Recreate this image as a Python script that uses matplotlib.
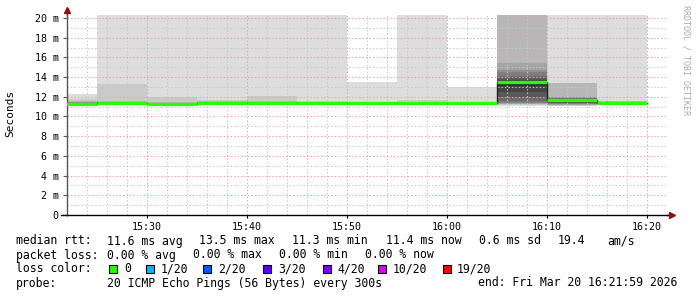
import matplotlib
matplotlib.use("Agg")
import matplotlib.pyplot as plt
from matplotlib.patches import Rectangle
from matplotlib.lines import Line2D

plt.rcParams['font.family'] = ['DejaVu Sans Mono']
plt.rcParams['lines.scale_dashes'] = False

# 5 minute steps, 20 sorted pings each (ms)
interval_start = ["15:20", "15:25", "15:30", "15:35", "15:40", "15:45",
                  "15:50", "15:55", "16:00", "16:05", "16:10", "16:15"]
interval_end = "16:20"
pings = [
    [11.15, 11.2, 11.2, 11.22, 11.25, 11.25, 11.28, 11.3, 11.3, 11.3, 11.32, 11.35, 11.35, 11.4, 11.42, 11.45, 11.5, 11.55, 11.8, 12.3],
    [11.2, 11.25, 11.28, 11.3, 11.3, 11.32, 11.35, 11.35, 11.38, 11.4, 11.4, 11.42, 11.45, 11.45, 11.48, 11.5, 11.52, 11.6, 13.3, 24.8],
    [11.15, 11.2, 11.2, 11.22, 11.25, 11.25, 11.28, 11.3, 11.3, 11.3, 11.32, 11.32, 11.35, 11.35, 11.38, 11.4, 11.42, 11.45, 12.0, 22.5],
    [11.2, 11.22, 11.25, 11.28, 11.3, 11.3, 11.32, 11.35, 11.35, 11.35, 11.38, 11.4, 11.4, 11.42, 11.45, 11.48, 11.5, 11.6, 11.7, 27.3],
    [11.2, 11.25, 11.28, 11.3, 11.3, 11.32, 11.35, 11.38, 11.4, 11.4, 11.4, 11.42, 11.45, 11.45, 11.48, 11.5, 11.52, 11.55, 12.1, 23.6],
    [11.2, 11.25, 11.28, 11.3, 11.3, 11.32, 11.35, 11.38, 11.4, 11.4, 11.4, 11.42, 11.42, 11.45, 11.45, 11.48, 11.5, 11.52, 11.55, 21.9],
    [11.15, 11.2, 11.25, 11.28, 11.3, 11.3, 11.32, 11.35, 11.35, 11.35, 11.35, 11.38, 11.38, 11.4, 11.42, 11.45, 11.48, 11.5, 11.52, 13.5],
    [11.2, 11.22, 11.25, 11.28, 11.3, 11.3, 11.32, 11.32, 11.35, 11.35, 11.35, 11.38, 11.4, 11.4, 11.42, 11.45, 11.48, 11.5, 11.65, 26.1],
    [11.15, 11.2, 11.22, 11.25, 11.28, 11.3, 11.3, 11.32, 11.35, 11.35, 11.35, 11.38, 11.38, 11.4, 11.42, 11.45, 11.48, 11.5, 11.52, 12.95],
    [11.1, 11.2, 11.25, 11.3, 11.35, 11.4, 11.6, 12.0, 12.5, 13.1, 13.65, 13.75, 13.9, 14.1, 14.5, 14.7, 15.4, 21.5, 24.0, 28.7],
    [11.05, 11.1, 11.15, 11.2, 11.25, 11.3, 11.35, 11.4, 11.5, 11.6, 11.75, 11.78, 11.8, 11.85, 11.9, 11.95, 12.0, 13.4, 13.45, 23.0],
    [11.2, 11.25, 11.28, 11.3, 11.3, 11.32, 11.35, 11.35, 11.38, 11.4, 11.4, 11.42, 11.42, 11.45, 11.48, 11.5, 11.52, 11.55, 11.6, 25.4],
]
median = [11.3, 11.4, 11.3, 11.35, 11.4, 11.4, 11.35, 11.35, 11.35, 13.5, 11.7, 11.4]

x_ticks = ["15:30", "15:40", "15:50", "16:00", "16:10", "16:20"]
y_ticks = [0, 2, 4, 6, 8, 10, 12, 14, 16, 18, 20]
y_labels = ["0", "2 m", "4 m", "6 m", "8 m", "10 m", "12 m", "14 m", "16 m", "18 m", "20 m"]

loss_labels = ["0", "1/20", "2/20", "3/20", "4/20", "10/20", "19/20"]
loss_colors = ["#26ff00", "#00b8ff", "#0059ff", "#5e00ff", "#7e00ff", "#dd00ff", "#ff0000"]


def minutes(t):
    h, m = t.split(":")
    return (int(h) - 15) * 60 + int(m)


starts = [minutes(t) for t in interval_start]
ends = starts[1:] + [minutes(interval_end)]

W, H = 697, 297
fig = plt.figure(figsize=(W / 100, H / 100), dpi=100)
ax = fig.add_axes([67 / W, (H - 215) / H, 600 / W, 200 / H])
t0 = 21.98
ax.set_xlim(t0, t0 + 60)
ax.set_ylim(0, 200 / 9.85)

# smoke: outer band lightest, inner darkest
half = 10
for s, e, p in zip(starts, ends, pings):
    for i in range(1, half + 1):
        g = int(190 / half * (half - i)) + 50
        col = "#%02x%02x%02x" % (g, g, g)
        ax.fill_between([s, e], p[i - 1], p[20 - i], color=col, lw=0, zorder=1)

# grid
minor_kw = dict(color="#c8c8c8", lw=0.75, ls=(0, (1.0, 1.5)), zorder=1.5)
major_kw = dict(color="#f0a0a0", lw=0.75, ls=(0, (1.0, 1.5)), zorder=1.6)
for v in range(1, 21):
    ax.axhline(v, **(major_kw if v % 2 == 0 else minor_kw))
for m in range(24, 82, 2):
    ax.axvline(m, **(major_kw if m % 10 == 0 else minor_kw))

# median line
ax.plot(starts + [ends[-1]], median + [median[-1]], drawstyle="steps-post",
        color="#202020", lw=1.0, zorder=2)
ax.hlines(median, starts, ends, color=loss_colors[0], lw=2.3, zorder=3)

for sp in ["top", "right"]:
    ax.spines[sp].set_visible(False)
ax.spines["left"].set_color("#555555")
ax.spines["bottom"].set_color("#000000")
ax.spines["left"].set_linewidth(1.0)
ax.spines["bottom"].set_linewidth(1.0)

# axis extensions with arrows
ax.add_line(Line2D([0, 0], [1.0, 1.02], transform=ax.transAxes, color="#555555",
                   lw=1.0, clip_on=False))
ax.add_line(Line2D([-0.01, 0.0], [0, 0], transform=ax.transAxes, color="#000000",
                   lw=1.0, clip_on=False))
ax.add_line(Line2D([1.0, 1.005], [0, 0], transform=ax.transAxes, color="#000000",
                   lw=1.0, clip_on=False))
ax.plot([0], [1.025], marker="^", ms=4, color="#8b1010", transform=ax.transAxes,
        clip_on=False, zorder=5)
ax.plot([1.009], [0], marker=">", ms=4, color="#8b1010", transform=ax.transAxes,
        clip_on=False, zorder=5)

ax.set_yticks(y_ticks)
ax.set_yticklabels(y_labels)
ax.set_xticks([minutes(t) for t in x_ticks])
ax.set_xticklabels(x_ticks)
ax.tick_params(axis="y", length=3, width=0.8, pad=3, labelsize=7.2, color="#555555")
ax.tick_params(axis="x", length=2, width=0.8, pad=3, labelsize=7.2)

fig.text(10 / W, 1 - 113 / H, "Seconds", rotation=90, ha="center", va="center",
         fontsize=8)
fig.text(686 / W, 1 - 5 / H, "RRDTOOL / TOBI OETIKER", rotation=270, ha="center",
         va="top", fontsize=6, color="#aaaaaa")


def put(x, y, s):
    fig.text(x / W, 1 - y / H, s, ha="left", va="center", fontsize=8.3)


put(16, 241, "median rtt:")
put(107, 241, "11.6 ms avg")
put(199, 241, "13.5 ms max")
put(292, 241, "11.3 ms min")
put(386, 241, "11.4 ms now")
put(479, 241, "0.6 ms sd")
put(558, 241, "19.4")
put(607, 241, "am/s")

put(16, 255, "packet loss:")
put(107, 255, "0.00 % avg")
put(193, 255, "0.00 % max")
put(279, 255, "0.00 % min")
put(365, 255, "0.00 % now")

put(16, 269, "loss color:")
box_x = [108.5, 146, 203, 262.5, 322.5, 378, 442.5]
label_x = [124, 160.5, 218.5, 278, 337, 392.5, 457]
for bx, lx, lab, col in zip(box_x, label_x, loss_labels, loss_colors):
    fig.patches.append(Rectangle((bx / W, 1 - 273 / H), 8 / W, 8 / H,
                                 transform=fig.transFigure, facecolor=col,
                                 edgecolor="black", lw=0.8))
    put(lx, 269, lab)

put(16, 283, "probe:")
put(107, 283, "20 ICMP Echo Pings (56 Bytes) every 300s")
put(478, 283, "end: Fri Mar 20 16:21:59 2026")

fig.savefig("out.png", dpi=100)
